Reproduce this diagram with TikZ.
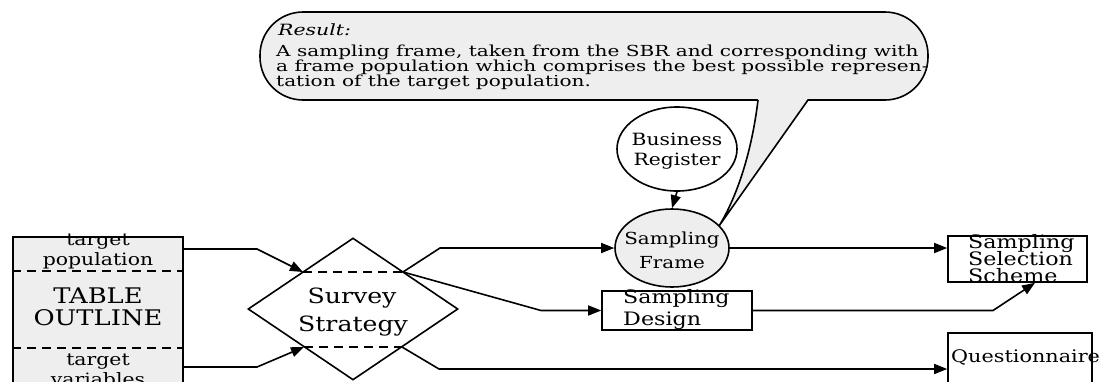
\documentclass[tikz,border=0pt]{standalone}
\usepackage{fontspec}
\setmainfont{DejaVu Serif}
\newfontfamily\wa{DejaVu Serif}[FakeStretch=1.2]
\newfontfamily\wb{DejaVu Serif}[FakeStretch=1.32]
\usetikzlibrary{arrows.meta,shapes.geometric}
\tikzset{
  ln/.style={line width=1.6pt},
  arr/.style={ln, -{Triangle[length=13pt,width=10pt]}},
  stip/.style={fill=gray!13},
  box/.style={draw, ln, rectangle, inner sep=0pt},
  ell/.style={draw, ln, ellipse, inner sep=0pt},
  txt/.style={inner sep=0pt, anchor=base},
  txl/.style={inner sep=0pt, anchor=base west},
  dsh/.style={ln, dash pattern=on 9pt off 6pt},
}
\begin{document}
\begin{tikzpicture}[x=1pt,y=-1pt]
\clip (0,0) rectangle (1100,381);
\fill[white] (0,0) rectangle (1100,381);
% callout
\coordinate (tip) at (719,226);
\filldraw[ln, stip, rounded corners=43pt] (260,12) rectangle (928,100);
\fill[stip] (758,98.5) .. controls (752,150) and (738,195) .. (tip) -- (808,98.5) -- cycle;
\draw[ln] (758,100) .. controls (752,150) and (738,195) .. (tip) -- (808,100);
\node[txl, font={\wb\itshape\fontsize{15.5}{15.5}\selectfont}] (res) at (278,35) {Result:};
\node[txl, font={\wb\fontsize{15.2}{15}\selectfont}] (c1) at (276,56) {A sampling frame, taken from the SBR and corresponding with};
\node[txl, font={\wb\fontsize{15.2}{15}\selectfont}] (c2) at (276,71) {a frame population which comprises the best possible represen-};
\node[txl, font={\wb\fontsize{15.2}{15}\selectfont}] (c3) at (276,86) {tation of the target population.};
% shapes
\node[box, stip, minimum width=170pt, minimum height=163pt] (table) at (98,318.5) {};
\draw[dsh] (table.west |- 0,271) -- (table.east |- 0,271);
\draw[dsh] (table.west |- 0,348) -- (table.east |- 0,348);
\node[draw, ln, diamond, inner sep=0pt, minimum width=210pt, minimum height=142pt, fill=white] (dia) at (353,309) {};
\coordinate (dTL) at (303,272);
\coordinate (dTR) at (403,272);
\coordinate (dBL) at (304,347);
\coordinate (dBR) at (402,347);
\draw[dsh] (dTL) -- (dTR);
\draw[dsh] (dBL) -- (dBR);
\node[ell, minimum width=120pt, minimum height=84pt, fill=white] (br) at (677,149) {};
\node[ell, stip, minimum width=114pt, minimum height=78pt] (sf) at (672,248) {};
\node[box, fill=white, minimum width=150pt, minimum height=39pt] (sd) at (677,310.5) {};
\node[box, fill=white, minimum width=139pt, minimum height=46pt] (sss) at (1017.5,259) {};
\node[box, fill=white, minimum width=144pt, minimum height=67pt] (q) at (1020,366.5) {};
% texts
\node[txt, font={\wa\fontsize{17}{17}\selectfont}] (t1) at (98,245) {target};
\node[txt, font={\wa\fontsize{17}{17}\selectfont}] (t2) at (98,265) {population};
\node[txt, font={\wa\fontsize{21.5}{21.5}\selectfont}] (t3) at (98,303) {TABLE};
\node[txt, font={\wa\fontsize{21.5}{21.5}\selectfont}] (t4) at (98,325) {OUTLINE};
\node[txt, font={\wa\fontsize{17}{17}\selectfont}] (t5) at (98,365) {target};
\node[txt, font={\wa\fontsize{17}{17}\selectfont}] (t6) at (98,385) {variables};
\node[txt, font={\wa\fontsize{21}{21}\selectfont}] (s1) at (352,303) {Survey};
\node[txt, font={\wa\fontsize{21}{21}\selectfont}] (s2) at (353,331) {Strategy};
\node[txt, font={\wa\fontsize{16.9}{17}\selectfont}] (b1) at (677,145) {Business};
\node[txt, font={\wa\fontsize{16.9}{17}\selectfont}] (b2) at (677,165) {Register};
\node[txt, font={\wa\fontsize{16.6}{17}\selectfont}] (f1) at (672,244) {Sampling};
\node[txt, font={\wa\fontsize{16.6}{17}\selectfont}] (f2) at (672,268) {Frame};
\node[txl, font={\wa\fontsize{18.5}{18}\selectfont}] (d1) at (623,303) {Sampling};
\node[txl, font={\wa\fontsize{18.5}{18}\selectfont}] (d2) at (623,325) {Design};
\node[txl, font={\wa\fontsize{18.5}{18}\selectfont}] (e1) at (968,248) {Sampling};
\node[txl, font={\wa\fontsize{18.5}{18}\selectfont}] (e2) at (968,265) {Selection};
\node[txl, font={\wa\fontsize{18.5}{18}\selectfont}] (e3) at (968,282) {Scheme};
\node[txl, font={\wa\fontsize{17.3}{17}\selectfont}] (q1) at (951,362) {Questionnaire};
% connectors
\draw[arr] (table.east |- 0,249) -- (257,249) -- (dTL);
\draw[arr] (table.east |- 0,367) -- (257,367) -- (dBL);
\draw[arr] (dTR) -- (440,248) -- (sf.west);
\draw[arr] (dTR) -- (541,310.5) -- (sd.west);
\draw[arr] (dBR) -- (439,369) -- (q.west |- 0,369);
\draw[arr] (sf.east) -- (sss.west |- sf.east);
\draw[arr] (sd.east) -- (993,310.5) -- (sss.south -| 1035,0);
\draw[arr] (br.south) -- (sf.north);
\end{tikzpicture}
\end{document}
